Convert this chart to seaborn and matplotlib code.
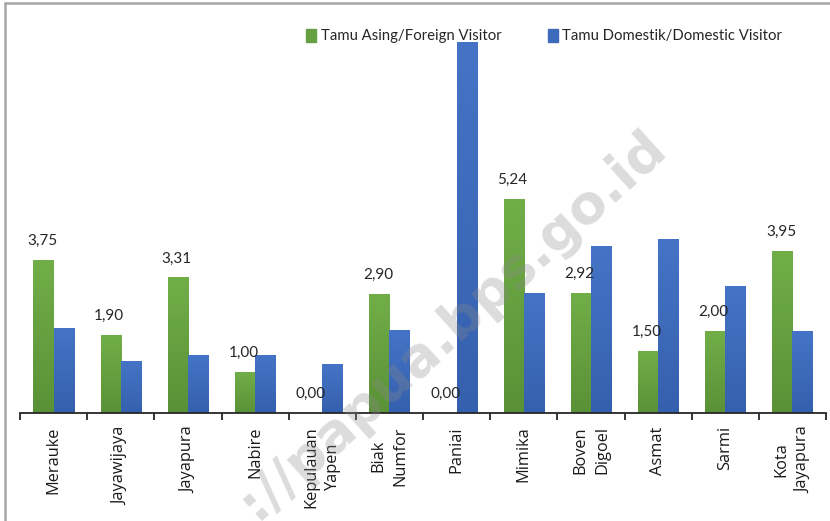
import numpy as np
import pandas as pd
import seaborn as sns
import matplotlib.pyplot as plt
from matplotlib.lines import Line2D
from matplotlib.colors import LinearSegmentedColormap

# Data
kabupaten = ['Merauke', 'Jayawijaya', 'Jayapura', 'Nabire', 'Kepulauan\nYapen',
             'Biak\nNumfor', 'Paniai', 'Mimika', 'Boven\nDigoel', 'Asmat',
             'Sarmi', 'Kota\nJayapura']
asing = [3.75, 1.90, 3.31, 1.00, 0.00, 2.90, 0.00, 5.24, 2.92, 1.50, 2.00, 3.95]
domestik = [2.06, 1.27, 1.40, 1.42, 1.18, 2.03, 9.09, 2.92, 4.07, 4.26, 3.09, 1.99]
series = ['Tamu Asing/Foreign Visitor', 'Tamu Domestik/Domestic Visitor']

df = pd.DataFrame({
    'Kabupaten': kabupaten * 2,
    'Jenis': [series[0]] * len(kabupaten) + [series[1]] * len(kabupaten),
    'Nilai': asing + domestik,
})

sns.set_theme(style='white')
plt.rcParams['font.family'] = ['Open Sans', 'DejaVu Sans']

green = '#65a142'
blue = '#3e6abb'
# gradient colours (bottom, top)
green_grad = ['#5a9137', '#71ae48']
blue_grad = ['#3560ad', '#4574c6']

fig = plt.figure(figsize=(8.30, 5.21), dpi=100)
ax = fig.add_axes([20 / 830, 1 - 413 / 521, 806 / 830, (413 - 20) / 521])

sns.barplot(data=df, x='Kabupaten', y='Nilai', hue='Jenis', palette=[green, blue],
            width=0.6, gap=0, saturation=1, linewidth=0, ax=ax, legend=False)

# vertical gradient fill inside each bar
grad = np.linspace(0, 1, 256).reshape(-1, 1)
for cont, cols in zip(ax.containers, [green_grad, blue_grad]):
    cmap = LinearSegmentedColormap.from_list('g', cols)
    for bar in cont:
        x0, w, h = bar.get_x(), bar.get_width(), bar.get_height()
        if h <= 0:
            continue
        ax.imshow(grad, extent=[x0, x0 + w, 0, h], origin='lower', cmap=cmap,
                  aspect='auto', zorder=2, interpolation='bilinear')
        bar.set_visible(False)

ax.set_xlim(-0.5, len(kabupaten) - 0.5)
ax.set_ylim(0, (413 - 20) / 40.8)
ax.set_xlabel('')
ax.set_ylabel('')
ax.set_yticks([])
for s in ['top', 'right', 'left']:
    ax.spines[s].set_visible(False)
ax.spines['bottom'].set_color('#262626')
ax.spines['bottom'].set_linewidth(1.3)
ax.spines['bottom'].set_zorder(3)

# ticks on category boundaries, labels at centres
ax.set_xticks(range(len(kabupaten)))
ax.set_xticks([i - 0.5 for i in range(len(kabupaten) + 1)], minor=True)
ax.tick_params(axis='x', which='major', length=0, pad=9.5)
ax.tick_params(axis='x', which='minor', length=5, width=1.3, color='#262626', bottom=True)
ax.set_xticklabels(kabupaten, rotation=90, fontsize=11.8, color='#1a1a1a',
                   va='top', ha='center')

# value labels on the green bars
for bar, v in zip(ax.containers[0], asing):
    ax.annotate(f'{v:.2f}'.replace('.', ','),
                (bar.get_x() + bar.get_width() / 2, bar.get_height()),
                xytext=(-1, 9), textcoords='offset points', ha='center', va='bottom',
                fontsize=11, color='#262626', family=['Lato', 'DejaVu Sans'], zorder=4)

# legend
handles = [plt.Rectangle((0, 0), 1, 1, color=green), plt.Rectangle((0, 0), 1, 1, color=blue)]
fig.legend(handles, series, loc='center left', bbox_to_anchor=(293 / 830, 1 - 36 / 521),
           ncol=2, frameon=False, handlelength=0.65, handleheight=0.95, handletextpad=0.3,
           columnspacing=3.15, prop={'family': ['Lato', 'DejaVu Sans'], 'size': 10.75},
           labelcolor='#262626')

# watermark
fig.text(668 / 830, 1 - 150 / 521, '://papua.bps.go.id', rotation=42,
         rotation_mode='anchor', ha='right', va='baseline', fontsize=39,
         fontweight='bold', color='#8a8a8a', alpha=0.3, family='DejaVu Sans', zorder=10)

# outer frame
fig.add_artist(Line2D([5 / 830, 5 / 830], [0, 1 - 3 / 521], color='#a6a6a6', lw=1.8))
fig.add_artist(Line2D([5 / 830, 1], [1 - 3 / 521, 1 - 3 / 521], color='#a6a6a6', lw=1.8))

# line spacing of the two-line labels only sticks after a draw
fig.canvas.draw()
for t in ax.get_xticklabels():
    t.set_linespacing(1.5)
    t.set_multialignment('center')

fig.savefig('out.png', dpi=100)
